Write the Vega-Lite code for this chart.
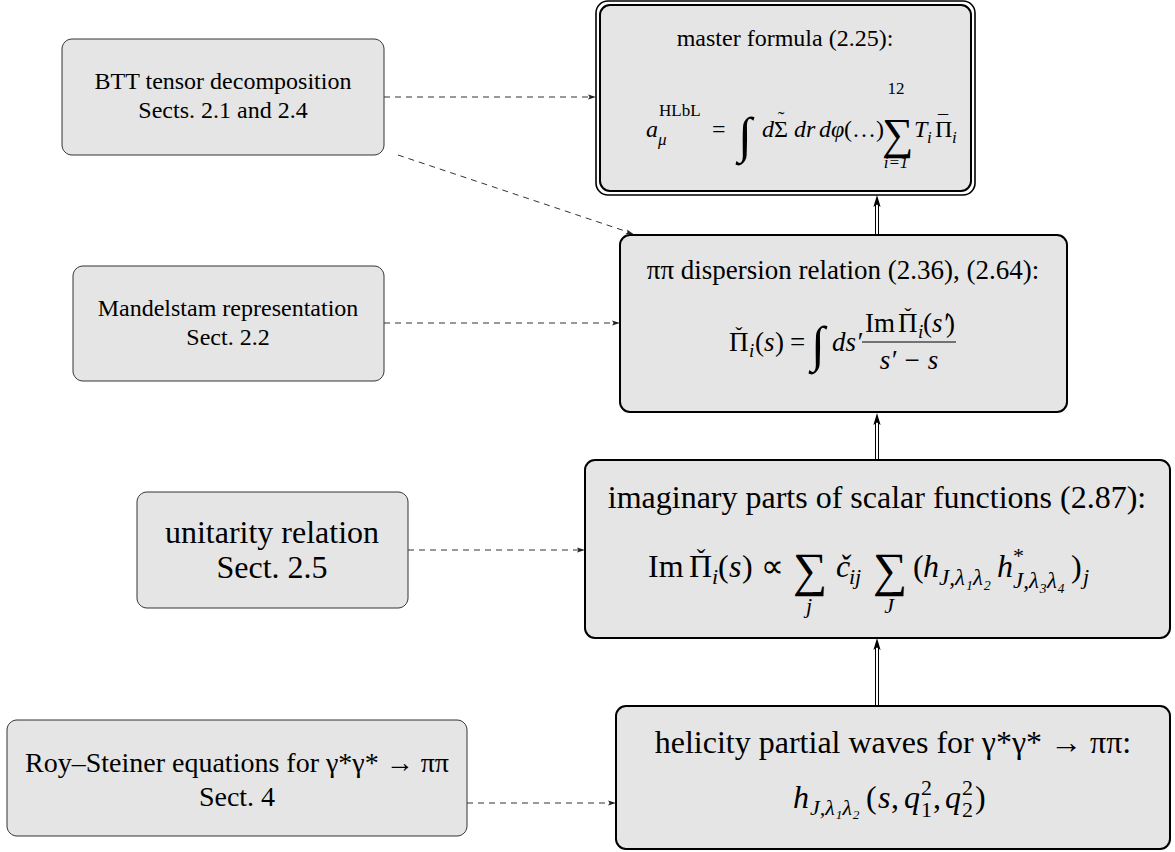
{
  "$schema": "https://vega.github.io/schema/vega-lite/v6.json",
  "width": 1175,
  "height": 852,
  "autosize": {"type": "fit", "contains": "padding"},
  "padding": 0,
  "background": "white",
  "config": {"view": {"stroke": null}},
  "datasets": {
    "boxes": [
      {"id": "btt", "x": 62, "x2": 384, "y": 39, "y2": 155, "w": "thin"},
      {"id": "mand", "x": 73, "x2": 384, "y": 266, "y2": 381, "w": "thin"},
      {"id": "unit", "x": 137, "x2": 408, "y": 492, "y2": 608, "w": "thin"},
      {"id": "roy", "x": 7, "x2": 467, "y": 720, "y2": 836, "w": "thin"},
      {"id": "master_outer", "x": 596, "x2": 975, "y": 1, "y2": 195, "w": "outer"},
      {"id": "master_inner", "x": 600, "x2": 971, "y": 5, "y2": 191, "w": "thick"},
      {"id": "disp", "x": 620, "x2": 1067, "y": 235, "y2": 412, "w": "thick"},
      {"id": "imag", "x": 585, "x2": 1170, "y": 460, "y2": 638, "w": "thick"},
      {"id": "heli", "x": 616, "x2": 1170, "y": 706, "y2": 849, "w": "thick"}
    ],
    "lines": [
      {"k": "dash", "x": 384, "y": 97, "x2": 590, "y2": 97},
      {"k": "dash", "x": 398, "y": 155, "x2": 628, "y2": 232},
      {"k": "dash", "x": 384, "y": 323, "x2": 614, "y2": 323},
      {"k": "dash", "x": 408, "y": 550, "x2": 579, "y2": 550},
      {"k": "dash", "x": 467, "y": 803, "x2": 610, "y2": 803},
      {"k": "solid", "x": 875.5, "y": 706, "x2": 875.5, "y2": 646},
      {"k": "solid", "x": 878.5, "y": 706, "x2": 878.5, "y2": 646},
      {"k": "solid", "x": 875.5, "y": 460, "x2": 875.5, "y2": 421},
      {"k": "solid", "x": 878.5, "y": 460, "x2": 878.5, "y2": 421},
      {"k": "solid", "x": 875.5, "y": 235, "x2": 875.5, "y2": 203},
      {"k": "solid", "x": 878.5, "y": 235, "x2": 878.5, "y2": 203},
      {"k": "frac", "x": 862, "y": 342, "x2": 956, "y2": 342}
    ],
    "heads": [
      {"k": "right", "x": 592, "y": 97},
      {"k": "right", "x": 616, "y": 323},
      {"k": "right", "x": 581, "y": 550},
      {"k": "right", "x": 612, "y": 803},
      {"k": "diag", "x": 630, "y": 233},
      {"k": "up", "x": 877, "y": 644},
      {"k": "up", "x": 877, "y": 419},
      {"k": "up", "x": 877, "y": 201}
    ],
    "texts": [
      {"k": "T24", "x": 223, "y": 89, "t": "BTT tensor decomposition"},
      {"k": "T24", "x": 223, "y": 118, "t": "Sects. 2.1 and 2.4"},
      {"k": "T24", "x": 228, "y": 316, "t": "Mandelstam representation"},
      {"k": "T24", "x": 228, "y": 345, "t": "Sect. 2.2"},
      {"k": "T32", "x": 272, "y": 543, "t": "unitarity relation"},
      {"k": "T32", "x": 272, "y": 578, "t": "Sect. 2.5"},
      {"k": "T28", "x": 237, "y": 772, "t": "Roy–Steiner equations for γ*γ* → ππ"},
      {"k": "T28", "x": 237, "y": 806, "t": "Sect. 4"},
      {"k": "T24", "x": 785, "y": 46, "t": "master formula (2.25):"},
      {"k": "T27", "x": 843, "y": 279, "t": "ππ dispersion relation (2.36), (2.64):"},
      {"k": "T32", "x": 877, "y": 508, "t": "imaginary parts of scalar functions (2.87):"},
      {"k": "T32", "x": 893, "y": 753, "t": "helicity partial waves for γ*γ* → ππ:"},

      {"k": "I24", "x": 646, "y": 137, "t": "a"},
      {"k": "s17", "x": 659, "y": 116, "t": "HLbL"},
      {"k": "si17", "x": 658, "y": 145, "t": "μ"},
      {"k": "R24", "x": 712, "y": 137, "t": "="},
      {"k": "B50", "x": 738, "y": 152, "t": "∫"},
      {"k": "I24", "x": 762, "y": 137, "t": "d"},
      {"k": "R24", "x": 774, "y": 137, "t": "Σ"},
      {"k": "A24", "x": 781, "y": 126, "t": "˜"},
      {"k": "I24", "x": 794, "y": 137, "t": "dr"},
      {"k": "I24", "x": 819, "y": 137, "t": "dφ"},
      {"k": "R24", "x": 844, "y": 137, "t": "(…)"},
      {"k": "B44", "x": 882, "y": 149, "t": "∑"},
      {"k": "sc17", "x": 896, "y": 94, "t": "12"},
      {"k": "sci17", "x": 896, "y": 168, "t": "i=1"},
      {"k": "I24", "x": 914, "y": 137, "t": "T"},
      {"k": "si17", "x": 927, "y": 143, "t": "i"},
      {"k": "R24", "x": 935, "y": 137, "t": "Π"},
      {"k": "A24", "x": 943, "y": 130, "t": "¯"},
      {"k": "si17", "x": 952, "y": 143, "t": "i"},

      {"k": "R27", "x": 729, "y": 351, "t": "Π"},
      {"k": "A27", "x": 739, "y": 342, "t": "ˇ"},
      {"k": "si19", "x": 749, "y": 357, "t": "i"},
      {"k": "R27", "x": 755, "y": 351, "t": "("},
      {"k": "I27", "x": 764, "y": 351, "t": "s"},
      {"k": "R27", "x": 775, "y": 351, "t": ")"},
      {"k": "R27", "x": 790, "y": 351, "t": "="},
      {"k": "B50", "x": 811, "y": 361, "t": "∫"},
      {"k": "I27", "x": 832, "y": 351, "t": "ds′"},
      {"k": "R27", "x": 865, "y": 332, "t": "Im"},
      {"k": "R27", "x": 898, "y": 332, "t": "Π"},
      {"k": "A27", "x": 908, "y": 323, "t": "ˇ"},
      {"k": "si19", "x": 918, "y": 338, "t": "i"},
      {"k": "R27", "x": 923, "y": 332, "t": "("},
      {"k": "I27", "x": 932, "y": 332, "t": "s′"},
      {"k": "R27", "x": 946, "y": 332, "t": ")"},
      {"k": "TI27", "x": 909, "y": 369, "t": "s′ − s"},

      {"k": "R32", "x": 648, "y": 577, "t": "Im"},
      {"k": "R32", "x": 689, "y": 577, "t": "Π"},
      {"k": "A32", "x": 701, "y": 567, "t": "ˇ"},
      {"k": "si22", "x": 712, "y": 584, "t": "i"},
      {"k": "R32", "x": 718, "y": 577, "t": "("},
      {"k": "I32", "x": 729, "y": 577, "t": "s"},
      {"k": "R32", "x": 742, "y": 577, "t": ")"},
      {"k": "R32", "x": 761, "y": 577, "t": "∝"},
      {"k": "B48", "x": 793, "y": 586, "t": "∑"},
      {"k": "sci22", "x": 809, "y": 613, "t": "j"},
      {"k": "I32", "x": 836, "y": 577, "t": "č"},
      {"k": "si22", "x": 849, "y": 584, "t": "ij"},
      {"k": "B48", "x": 873, "y": 586, "t": "∑"},
      {"k": "sci22", "x": 889, "y": 613, "t": "J"},
      {"k": "R32", "x": 913, "y": 577, "t": "("},
      {"k": "I32", "x": 923, "y": 577, "t": "h"},
      {"k": "si23", "x": 939, "y": 585, "t": "J,λ₁λ₂"},
      {"k": "I32", "x": 997, "y": 577, "t": "h"},
      {"k": "s22", "x": 1013, "y": 563, "t": "*"},
      {"k": "si23", "x": 1013, "y": 588, "t": "J,λ₃λ₄"},
      {"k": "R32", "x": 1071, "y": 577, "t": ")"},
      {"k": "si22", "x": 1083, "y": 584, "t": "j"},

      {"k": "I32", "x": 793, "y": 808, "t": "h"},
      {"k": "si22", "x": 810, "y": 815, "t": "J,λ₁λ₂"},
      {"k": "R32", "x": 866, "y": 808, "t": "("},
      {"k": "I32", "x": 878, "y": 808, "t": "s"},
      {"k": "R32", "x": 891, "y": 808, "t": ","},
      {"k": "I32", "x": 904, "y": 808, "t": "q"},
      {"k": "s22", "x": 921, "y": 795, "t": "2"},
      {"k": "s22", "x": 921, "y": 817, "t": "1"},
      {"k": "R32", "x": 933, "y": 808, "t": ","},
      {"k": "I32", "x": 945, "y": 808, "t": "q"},
      {"k": "s22", "x": 962, "y": 795, "t": "2"},
      {"k": "s22", "x": 962, "y": 817, "t": "2"},
      {"k": "R32", "x": 975, "y": 808, "t": ")"}
    ]
  },
  "encoding": {
    "x": {"field": "x", "type": "quantitative", "scale": {"domain": [0, 1175], "nice": false, "zero": false}, "axis": null},
    "y": {"field": "y", "type": "quantitative", "scale": {"domain": [0, 852], "nice": false, "zero": false, "reverse": true}, "axis": null}
  },
  "layer": [
    {"data": {"name": "lines"}, "transform": [{"filter": "datum.k === 'dash'"}],
     "mark": {"type": "rule", "color": "#333333", "strokeWidth": 1, "strokeDash": [6, 5]},
     "encoding": {"x2": {"field": "x2"}, "y2": {"field": "y2"}}},
    {"data": {"name": "lines"}, "transform": [{"filter": "datum.k === 'solid'"}],
     "mark": {"type": "rule", "color": "black", "strokeWidth": 1},
     "encoding": {"x2": {"field": "x2"}, "y2": {"field": "y2"}}},
    {"data": {"name": "boxes"}, "transform": [{"filter": "datum.w === 'thin'"}],
     "mark": {"type": "rect", "fill": "#e5e5e5", "stroke": "#333333", "strokeWidth": 1, "cornerRadius": 10},
     "encoding": {"x2": {"field": "x2"}, "y2": {"field": "y2"}}},
    {"data": {"name": "boxes"}, "transform": [{"filter": "datum.w === 'outer'"}],
     "mark": {"type": "rect", "fill": "white", "stroke": "black", "strokeWidth": 1.6, "cornerRadius": 12},
     "encoding": {"x2": {"field": "x2"}, "y2": {"field": "y2"}}},
    {"data": {"name": "boxes"}, "transform": [{"filter": "datum.w === 'thick'"}],
     "mark": {"type": "rect", "fill": "#e5e5e5", "stroke": "black", "strokeWidth": 2, "cornerRadius": 10},
     "encoding": {"x2": {"field": "x2"}, "y2": {"field": "y2"}}},
    {"data": {"name": "lines"}, "transform": [{"filter": "datum.k === 'frac'"}],
     "mark": {"type": "rule", "color": "black", "strokeWidth": 1},
     "encoding": {"x2": {"field": "x2"}, "y2": {"field": "y2"}}},
    {"data": {"name": "heads"}, "transform": [{"filter": "datum.k === 'right'"}],
     "mark": {"type": "point", "shape": "M -1 -0.6 L 1 0 L -1 0.6 L -0.6 0 Z", "filled": true, "color": "#222222", "opacity": 1, "size": 64}},
    {"data": {"name": "heads"}, "transform": [{"filter": "datum.k === 'diag'"}],
     "mark": {"type": "point", "shape": "M -1 -0.6 L 1 0 L -1 0.6 L -0.6 0 Z", "filled": true, "color": "#222222", "opacity": 1, "size": 64, "angle": 19}},
    {"data": {"name": "heads"}, "transform": [{"filter": "datum.k === 'up'"}],
     "mark": {"type": "point", "shape": "M -0.6 1 L 0 -1 L 0.6 1 L 0 0.6 Z", "filled": true, "color": "black", "opacity": 1, "size": 144}},

    {"data": {"name": "texts"}, "transform": [{"filter": "datum.k === 'T24'"}],
     "mark": {"type": "text", "font": "Liberation Serif", "baseline": "alphabetic", "fontSize": 24, "align": "center"},
     "encoding": {"text": {"field": "t"}}},
    {"data": {"name": "texts"}, "transform": [{"filter": "datum.k === 'T27'"}],
     "mark": {"type": "text", "font": "Liberation Serif", "baseline": "alphabetic", "fontSize": 27, "align": "center"},
     "encoding": {"text": {"field": "t"}}},
    {"data": {"name": "texts"}, "transform": [{"filter": "datum.k === 'T28'"}],
     "mark": {"type": "text", "font": "Liberation Serif", "baseline": "alphabetic", "fontSize": 28, "align": "center"},
     "encoding": {"text": {"field": "t"}}},
    {"data": {"name": "texts"}, "transform": [{"filter": "datum.k === 'T32'"}],
     "mark": {"type": "text", "font": "Liberation Serif", "baseline": "alphabetic", "fontSize": 32, "align": "center"},
     "encoding": {"text": {"field": "t"}}},
    {"data": {"name": "texts"}, "transform": [{"filter": "datum.k === 'TI27'"}],
     "mark": {"type": "text", "font": "Liberation Serif", "baseline": "alphabetic", "fontSize": 27, "align": "center", "fontStyle": "italic"},
     "encoding": {"text": {"field": "t"}}},

    {"data": {"name": "texts"}, "transform": [{"filter": "datum.k === 'R24'"}],
     "mark": {"type": "text", "font": "Liberation Serif", "baseline": "alphabetic", "fontSize": 24, "align": "left"},
     "encoding": {"text": {"field": "t"}}},
    {"data": {"name": "texts"}, "transform": [{"filter": "datum.k === 'I24'"}],
     "mark": {"type": "text", "font": "Liberation Serif", "baseline": "alphabetic", "fontSize": 24, "align": "left", "fontStyle": "italic"},
     "encoding": {"text": {"field": "t"}}},
    {"data": {"name": "texts"}, "transform": [{"filter": "datum.k === 'A24'"}],
     "mark": {"type": "text", "font": "Liberation Serif", "baseline": "alphabetic", "fontSize": 20, "align": "center"},
     "encoding": {"text": {"field": "t"}}},
    {"data": {"name": "texts"}, "transform": [{"filter": "datum.k === 's17'"}],
     "mark": {"type": "text", "font": "Liberation Serif", "baseline": "alphabetic", "fontSize": 17, "align": "left"},
     "encoding": {"text": {"field": "t"}}},
    {"data": {"name": "texts"}, "transform": [{"filter": "datum.k === 'si17'"}],
     "mark": {"type": "text", "font": "Liberation Serif", "baseline": "alphabetic", "fontSize": 17, "align": "left", "fontStyle": "italic"},
     "encoding": {"text": {"field": "t"}}},
    {"data": {"name": "texts"}, "transform": [{"filter": "datum.k === 'sc17'"}],
     "mark": {"type": "text", "font": "Liberation Serif", "baseline": "alphabetic", "fontSize": 17, "align": "center"},
     "encoding": {"text": {"field": "t"}}},
    {"data": {"name": "texts"}, "transform": [{"filter": "datum.k === 'sci17'"}],
     "mark": {"type": "text", "font": "Liberation Serif", "baseline": "alphabetic", "fontSize": 17, "align": "center", "fontStyle": "italic"},
     "encoding": {"text": {"field": "t"}}},

    {"data": {"name": "texts"}, "transform": [{"filter": "datum.k === 'R27'"}],
     "mark": {"type": "text", "font": "Liberation Serif", "baseline": "alphabetic", "fontSize": 27, "align": "left"},
     "encoding": {"text": {"field": "t"}}},
    {"data": {"name": "texts"}, "transform": [{"filter": "datum.k === 'I27'"}],
     "mark": {"type": "text", "font": "Liberation Serif", "baseline": "alphabetic", "fontSize": 27, "align": "left", "fontStyle": "italic"},
     "encoding": {"text": {"field": "t"}}},
    {"data": {"name": "texts"}, "transform": [{"filter": "datum.k === 'A27'"}],
     "mark": {"type": "text", "font": "Liberation Serif", "baseline": "alphabetic", "fontSize": 22, "align": "center"},
     "encoding": {"text": {"field": "t"}}},
    {"data": {"name": "texts"}, "transform": [{"filter": "datum.k === 'si19'"}],
     "mark": {"type": "text", "font": "Liberation Serif", "baseline": "alphabetic", "fontSize": 19, "align": "left", "fontStyle": "italic"},
     "encoding": {"text": {"field": "t"}}},

    {"data": {"name": "texts"}, "transform": [{"filter": "datum.k === 'R32'"}],
     "mark": {"type": "text", "font": "Liberation Serif", "baseline": "alphabetic", "fontSize": 32, "align": "left"},
     "encoding": {"text": {"field": "t"}}},
    {"data": {"name": "texts"}, "transform": [{"filter": "datum.k === 'I32'"}],
     "mark": {"type": "text", "font": "Liberation Serif", "baseline": "alphabetic", "fontSize": 32, "align": "left", "fontStyle": "italic"},
     "encoding": {"text": {"field": "t"}}},
    {"data": {"name": "texts"}, "transform": [{"filter": "datum.k === 'A32'"}],
     "mark": {"type": "text", "font": "Liberation Serif", "baseline": "alphabetic", "fontSize": 26, "align": "center"},
     "encoding": {"text": {"field": "t"}}},
    {"data": {"name": "texts"}, "transform": [{"filter": "datum.k === 's22'"}],
     "mark": {"type": "text", "font": "Liberation Serif", "baseline": "alphabetic", "fontSize": 22, "align": "left"},
     "encoding": {"text": {"field": "t"}}},
    {"data": {"name": "texts"}, "transform": [{"filter": "datum.k === 'si22'"}],
     "mark": {"type": "text", "font": "Liberation Serif", "baseline": "alphabetic", "fontSize": 22, "align": "left", "fontStyle": "italic"},
     "encoding": {"text": {"field": "t"}}},
    {"data": {"name": "texts"}, "transform": [{"filter": "datum.k === 'si23'"}],
     "mark": {"type": "text", "font": "Liberation Serif", "baseline": "alphabetic", "fontSize": 23, "align": "left", "fontStyle": "italic"},
     "encoding": {"text": {"field": "t"}}},
    {"data": {"name": "texts"}, "transform": [{"filter": "datum.k === 'sci22'"}],
     "mark": {"type": "text", "font": "Liberation Serif", "baseline": "alphabetic", "fontSize": 22, "align": "center", "fontStyle": "italic"},
     "encoding": {"text": {"field": "t"}}},

    {"data": {"name": "texts"}, "transform": [{"filter": "datum.k === 'B44'"}],
     "mark": {"type": "text", "font": "Liberation Serif", "baseline": "alphabetic", "fontSize": 44, "align": "left"},
     "encoding": {"text": {"field": "t"}}},
    {"data": {"name": "texts"}, "transform": [{"filter": "datum.k === 'B48'"}],
     "mark": {"type": "text", "font": "Liberation Serif", "baseline": "alphabetic", "fontSize": 48, "align": "left"},
     "encoding": {"text": {"field": "t"}}},
    {"data": {"name": "texts"}, "transform": [{"filter": "datum.k === 'B50'"}],
     "mark": {"type": "text", "font": "Liberation Serif", "baseline": "alphabetic", "fontSize": 50, "align": "left"},
     "encoding": {"text": {"field": "t"}}}
  ]
}
